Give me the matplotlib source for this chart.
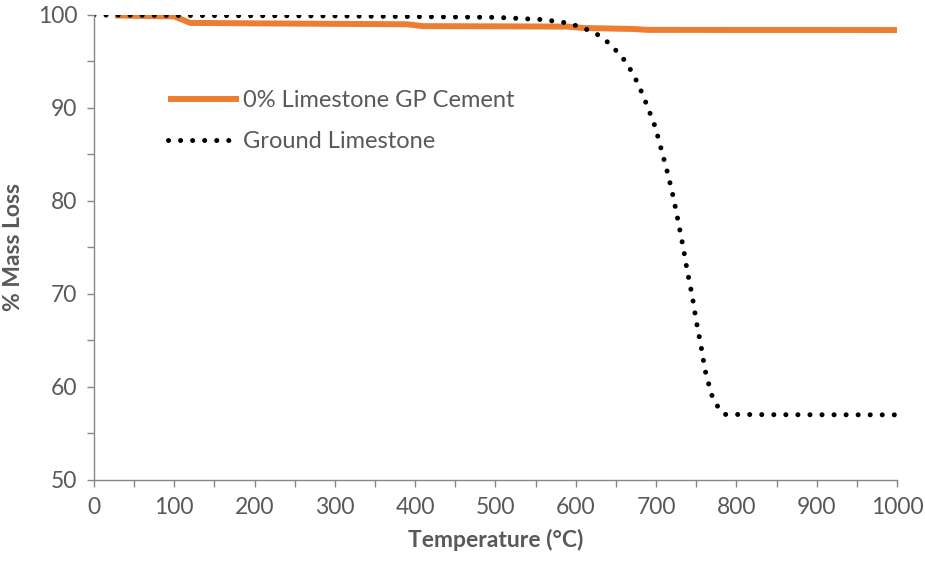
import numpy as np
import matplotlib.pyplot as plt
from matplotlib.ticker import MultipleLocator

plt.rcParams['font.family'] = ['Lato', 'DejaVu Sans']

# 0% limestone GP cement
t_cement = [26, 60, 100, 110, 120, 200, 300, 390, 410, 500, 590, 610, 670, 690, 800, 900, 1000]
m_cement = [99.95, 99.9, 99.85, 99.5, 99.15, 99.1, 99.05, 99.0, 98.8, 98.78, 98.75, 98.6, 98.5, 98.4, 98.39, 98.39, 98.38]

# ground limestone
t_lime = [0, 100, 300, 500, 560, 587, 601, 615, 628, 640, 651, 661, 669, 676, 682, 688,
          699, 707, 715, 722, 728, 734, 739, 745, 750, 756, 761, 765, 769, 775, 785, 850, 1000]
m_lime = [100, 99.95, 99.9, 99.75, 99.5, 99.17, 98.85, 98.4, 97.85, 97.06, 96.1, 95.1, 94.0, 92.87, 91.7, 90.43,
          87.96, 85.38, 82.8, 80.2, 77.6, 74.9, 72.4, 69.8, 67.1, 64.4, 61.8, 60.5, 59.2, 58.1, 57.05, 57.02, 57.0]

grey = '#595959'
fs = 16.5

fig = plt.figure(figsize=(9.25, 5.68), dpi=100)
ax = fig.add_axes([0.1016, 0.155, 0.8681, 0.8186])

ax.plot(t_cement, m_cement, color='#ED7D31', lw=4.3, solid_capstyle='butt',
        label='0% Limestone GP Cement')
ax.plot(t_lime, m_lime, color='black', lw=3.6, linestyle=(0, (0.01, 2.4)),
        dash_capstyle='round', label='Ground Limestone')

ax.set_xlim(0, 1000)
ax.set_ylim(50, 100)
ax.xaxis.set_major_locator(MultipleLocator(100))
ax.xaxis.set_minor_locator(MultipleLocator(50))
ax.yaxis.set_major_locator(MultipleLocator(10))
ax.yaxis.set_minor_locator(MultipleLocator(5))

for s in ['top', 'right']:
    ax.spines[s].set_visible(False)
for s in ['left', 'bottom']:
    ax.spines[s].set_color('#868686')
    ax.spines[s].set_linewidth(1.0)

ax.tick_params(which='both', direction='out', length=5, width=1, color='#868686',
               labelsize=fs, labelcolor=grey)
ax.tick_params(axis='x', pad=7)
ax.tick_params(axis='y', pad=7)

ax.set_xlabel('Temperature (\u00b0C)', fontsize=16.5, fontweight='bold', color=grey, labelpad=8)
ax.set_ylabel('% Mass Loss', fontsize=16.5, fontweight='bold', color=grey, labelpad=10)

leg = ax.legend(loc='upper left', bbox_to_anchor=(0.092, 0.838), frameon=False,
                fontsize=17, handlelength=3.0, handletextpad=0.2, labelspacing=0.85,
                borderpad=0, borderaxespad=0)
for txt in leg.get_texts():
    txt.set_color(grey)

fig.savefig('out.png', dpi=100)
